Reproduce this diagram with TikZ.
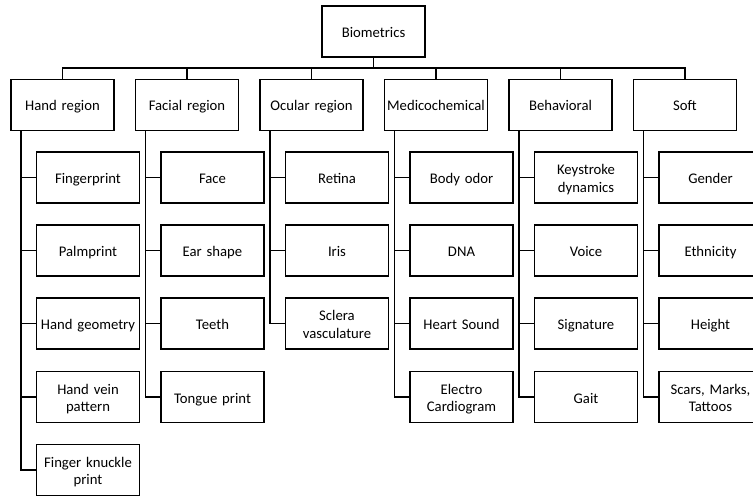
\documentclass[tikz,border=0pt]{standalone}
\usepackage{fontspec}
\setmainfont{Carlito}
\newcommand{\topstrut}{\rule{0pt}{17.25pt}}
\newcommand{\botstrut}{\rule[-5.25pt]{0pt}{5.25pt}}
\begin{document}
\begin{tikzpicture}[x=1pt,y=-1pt,
  box/.style={draw=black,line width=1.6pt,text width=100pt,inner xsep=1.5pt,inner ysep=0pt,
    minimum height=51pt,align=center,font=\fontsize{14.7}{17.5}\selectfont,
    execute at begin node=\topstrut,execute at end node=\botstrut},
  conn/.style={draw=black,line width=1.6pt}]
\useasboundingbox (0,0) rectangle (753,497);
\clip (0,0) rectangle (753,497);
% root
\node[box] (bio) at (373.5,31.5) {Biometrics};
\coordinate (bus) at (373.5,68);
% level 1
\node[box] (hand) at (62.5,105) {Hand region};
\node[box] (face) at (187,105) {Facial region};
\node[box] (ocu)  at (311.5,105) {Ocular region};
\node[box] (med)  at (436,105) {Medicochemical};
\node[box] (beh)  at (560.5,105) {Behavioral};
\node[box] (soft) at (685,105) {Soft};
% spines
\coordinate (hs) at (21,131);
\coordinate (fs) at (145.5,131);
\coordinate (os) at (270,131);
\coordinate (ms) at (394.5,131);
\coordinate (bs) at (519,131);
\coordinate (ss) at (643.5,131);
% hand children
\node[box] (h1) at (88,177.5) {Fingerprint};
\node[box] (h2) at (88,250.5) {Palmprint};
\node[box] (h3) at (88,323.5) {Hand geometry};
\node[box] (h4) at (88,397) {Hand vein\\pattern};
\node[box] (h5) at (88,470) {Finger knuckle\\print};
% facial children
\node[box] (f1) at (212.5,177.5) {Face};
\node[box] (f2) at (212.5,250.5) {Ear shape};
\node[box] (f3) at (212.5,323.5) {Teeth};
\node[box] (f4) at (212.5,397) {Tongue print};
% ocular children
\node[box] (o1) at (337,177.5) {Retina};
\node[box] (o2) at (337,250.5) {Iris};
\node[box] (o3) at (337,323.5) {Sclera\\vasculature};
% medicochemical children
\node[box] (m1) at (461.5,177.5) {Body odor};
\node[box] (m2) at (461.5,250.5) {DNA};
\node[box] (m3) at (461.5,323.5) {Heart Sound};
\node[box] (m4) at (461.5,397) {Electro\\Cardiogram};
% behavioral children
\node[box] (b1) at (586,177.5) {Keystroke\\dynamics};
\node[box] (b2) at (586,250.5) {Voice};
\node[box] (b3) at (586,323.5) {Signature};
\node[box] (b4) at (586,397) {Gait};
% soft children
\node[box] (s1) at (710.5,177.5) {Gender};
\node[box] (s2) at (710.5,250.5) {Ethnicity};
\node[box] (s3) at (710.5,323.5) {Height};
\node[box] (s4) at (710.5,397) {Scars, Marks,\\Tattoos};
% connectors
\draw[conn] (bio.south) -- (bus);
\foreach \n in {hand,face,ocu,med,beh,soft} \draw[conn] (\n.north) |- (bus);
\foreach \c in {h1,h2,h3,h4,h5} \draw[conn] (hs) |- (\c.west);
\foreach \c in {f1,f2,f3,f4} \draw[conn] (fs) |- (\c.west);
\foreach \c in {o1,o2,o3} \draw[conn] (os) |- (\c.west);
\foreach \c in {m1,m2,m3,m4} \draw[conn] (ms) |- (\c.west);
\foreach \c in {b1,b2,b3,b4} \draw[conn] (bs) |- (\c.west);
\foreach \c in {s1,s2,s3,s4} \draw[conn] (ss) |- (\c.west);
\end{tikzpicture}
\end{document}
